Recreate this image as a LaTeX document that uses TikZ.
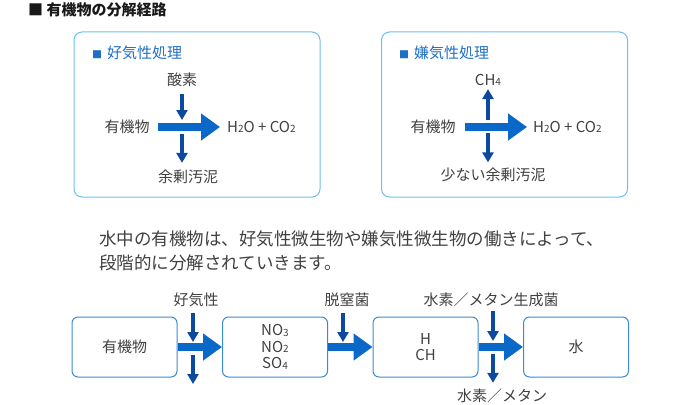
\documentclass[tikz,border=0pt]{standalone}
\usepackage{fontspec}
\setmainfont{Noto Sans CJK JP}
\usepackage{tikz}
\usetikzlibrary{arrows.meta, positioning}

\definecolor{textgray}{HTML}{404040}
\definecolor{headblue}{HTML}{1F6FC5}
\definecolor{panelblue}{HTML}{6CC0EE}
\definecolor{boxblue}{HTML}{3A8AD8}
\definecolor{flowblue}{HTML}{0A69C8}
\definecolor{navyblue}{HTML}{0B4A9E}

\newcommand{\subnum}[1]{\raisebox{-0.5pt}{\fontsize{10}{10}\selectfont #1}}

\tikzstyle{panel} = [rectangle, rounded corners=8pt, draw=panelblue, line width=1pt, minimum width=246pt, minimum height=165pt]
\tikzstyle{process} = [rectangle, rounded corners=6pt, draw=boxblue, line width=1pt, minimum width=105pt, minimum height=60pt, text centered, align=center, text=textgray, font=\fontsize{15}{16.5}\selectfont]
\tikzstyle{tag} = [text=textgray, font=\fontsize{15}{18}\selectfont, inner sep=2pt]
\tikzstyle{head} = [text=headblue, font=\fontsize{15}{18}\selectfont, inner sep=0pt, anchor=west]
\tikzstyle{bigarrow} = [line width=8pt, draw=flowblue, fill=flowblue, -{Triangle[length=19pt,width=26pt]}]
\tikzstyle{smallarrow} = [line width=3.5pt, draw=navyblue, fill=navyblue, -{Triangle[length=10pt,width=11pt]}]

\begin{document}
\begin{tikzpicture}[x=1pt, y=-1pt, node distance=44.5pt]
    \useasboundingbox (0,0) rectangle (700,404);

    % Title
    \node (title) [anchor=west, inner sep=0pt, font=\fontsize{15}{18}\selectfont\bfseries, text=black!90] at (28,10) {■ 有機物の分解経路};

    % Panels
    \node (aerobicPanel) [panel] at (197,114.5) {};
    \node (anaerobicPanel) [panel] at (504.5,114.5) {};

    \node (aerobicHead) [head] at (92,53) {{\fontsize{10}{10}\selectfont ■}\hspace{5pt}好気性処理};
    \node (anaerobicHead) [head] at (399,53) {{\fontsize{10}{10}\selectfont ■}\hspace{5pt}嫌気性処理};

    % Aerobic nodes
    \node (oxygen) [tag] at (182,80) {酸素};
    \node (organic1) [tag] at (127,127) {有機物};
    \node (product1) [tag, anchor=west] at (225,127) {H\subnum{2}O + CO\subnum{2}};
    \node (sludge1) [tag] at (188,177) {余剰汚泥};
    \coordinate (cross1) at (182,127);

    % Anaerobic nodes
    \node (methane) [tag] at (488,80) {CH\subnum{4}};
    \node (organic2) [tag] at (433,127) {有機物};
    \node (product2) [tag, anchor=west] at (531,127) {H\subnum{2}O + CO\subnum{2}};
    \node (sludge2) [tag] at (493,175) {少ない余剰汚泥};
    \coordinate (cross2) at (488,127);

    % Summary text
    \node (summary) [anchor=north west, align=left, inner sep=0pt, text=textgray, font=\fontsize{17.5}{24}\selectfont] at (99,230.5) {水中の有機物は、好気性微生物や嫌気性微生物の働きによって、\\段階的に分解されていきます。};

    % Flow nodes
    \node (organicB) [process] at (124.5,347) {有機物};
    \node (ions) [process, right=of organicB] {NO\subnum{3}\\NO\subnum{2}\\SO\subnum{4}};
    \node (hydro) [process, right=of ions] {H\\CH};
    \node (water) [process, right=of hydro] {水};

    \node (aerob) [tag] at (196,300) {好気性};
    \node (denit) [tag] at (347,300) {脱窒菌};
    \node (methb) [tag] at (491,300) {水素／メタン生成菌};
    \node (gas) [tag] at (502,396) {水素／メタン};
    \coordinate (cutA) at (193,347);
    \coordinate (cutB) at (343,347);
    \coordinate (cutC) at (493,347);
    \coordinate (outA) at (193,384);

    % Arrows
    \draw [bigarrow, shorten <=6pt, shorten >=5pt] (organic1) -- (product1);
    \draw [smallarrow, shorten <=5pt] (oxygen) -- ([yshift=7pt]cross1);
    \draw [smallarrow, shorten >=5pt] ([yshift=-7pt]cross1) -- (cross1 |- sludge1.north);

    \draw [bigarrow, shorten <=7.5pt, shorten >=4pt] (organic2) -- (product2);
    \draw [smallarrow, shorten >=1pt] ([yshift=7pt]cross2) -- (methane);
    \draw [smallarrow, shorten >=3.5pt] ([yshift=-6pt]cross2) -- (cross2 |- sludge2.north);

    \draw [bigarrow] (organicB) -- (ions);
    \draw [bigarrow] (ions) -- (hydro);
    \draw [bigarrow] (hydro) -- (water);

    \draw [smallarrow, shorten <=3.5pt] (aerob.south -| cutA) -- ([yshift=5pt]cutA);
    \draw [smallarrow] ([yshift=-8pt]cutA) -- (outA);
    \draw [smallarrow, shorten <=3.5pt] (denit.south -| cutB) -- ([yshift=5pt]cutB);
    \draw [smallarrow, shorten <=2pt] (methb.south -| cutC) -- ([yshift=6pt]cutC);
    \draw [smallarrow, shorten >=4pt] ([yshift=-7pt]cutC) -- (cutC |- gas.north);

\end{tikzpicture}
\end{document}
